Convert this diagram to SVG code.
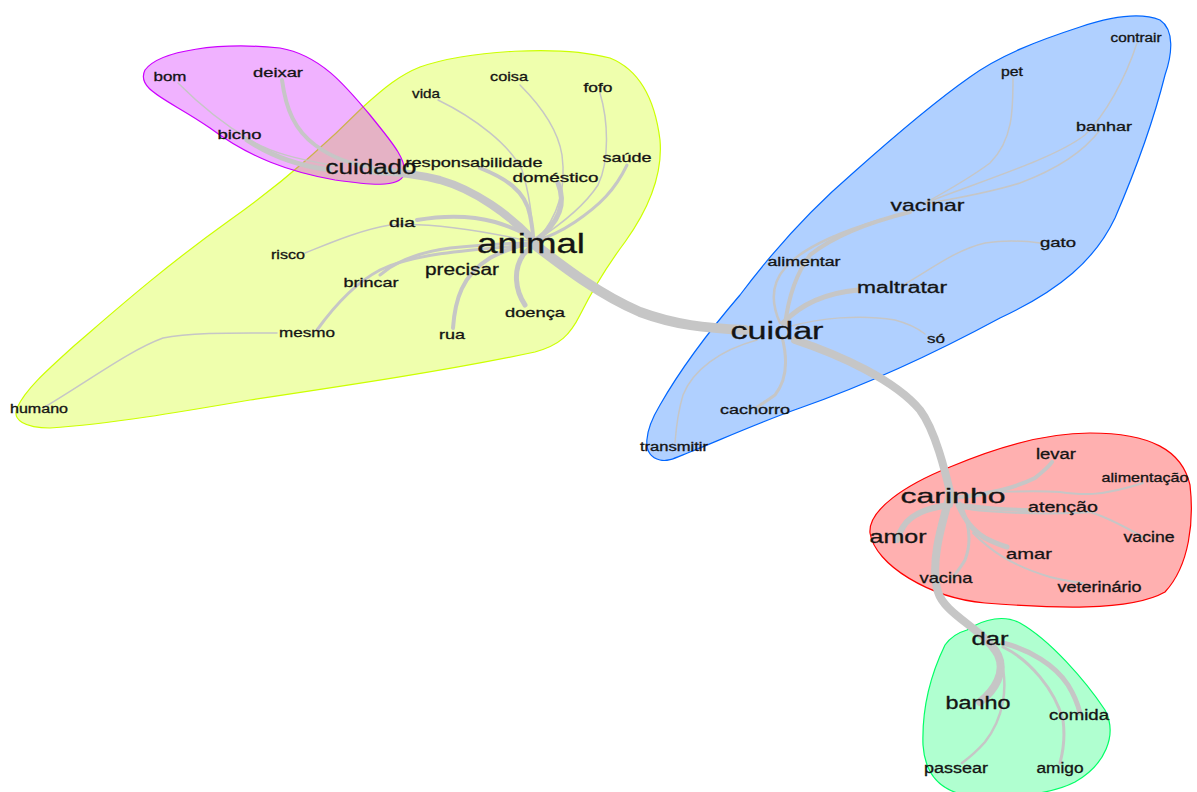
<svg xmlns="http://www.w3.org/2000/svg" width="1197" height="792" viewBox="0 0 1197 792">
<style>
.blob{stroke-width:1.2}
.yel{fill:#CCFF00;fill-opacity:0.32;stroke:#CCFF00}
.mag{fill:#CC00FF;fill-opacity:0.3;stroke:#CC00FF}
.blu{fill:#0066FF;fill-opacity:0.31;stroke:#0066FF}
.red{fill:#FF0000;fill-opacity:0.31;stroke:#FF0000}
.grn{fill:#00FF66;fill-opacity:0.31;stroke:#00FF66}
#edges path{fill:none;stroke:#c6c6c6;stroke-linecap:round}
text{font-family:"Liberation Sans",Arial,sans-serif;fill:#141414;stroke:#141414;stroke-width:0.3;text-anchor:middle}
</style>
<rect width="1197" height="792" fill="#ffffff"/>
<g id="groups">
<path class="blob yel" d="M 420,67 C 470,50 560,45 610,58 C 640,70 655,100 660,140 C 663,175 648,210 625,242 C 610,262 595,285 580,315 C 570,335 560,345 535,352 C 450,370 350,385 250,400 C 180,412 110,424 50,428 C 25,428 12,420 17,408 C 25,390 45,372 75,345 C 110,315 160,270 230,220 C 280,185 330,140 363,107 C 385,87 400,75 420,67 Z"/>
<path class="blob mag" d="M 145,70 C 160,50 220,42 280,48 C 320,55 345,85 370,115 C 390,140 408,160 404,175 C 398,188 370,185 335,180 C 290,172 250,158 210,128 C 170,100 135,90 145,70 Z"/>
<path class="blob blu" d="M 660,460 C 640,455 645,430 660,405 C 680,370 710,330 740,295 C 770,255 810,210 853,173 C 890,140 930,105 970,77 C 1000,55 1040,40 1080,27 C 1110,17 1140,12 1160,20 C 1175,30 1172,55 1165,75 C 1155,115 1140,160 1115,218 C 1095,260 1060,290 1000,318 C 950,345 880,380 800,408 C 760,422 720,440 690,452 C 675,458 668,462 660,460 Z"/>
<path class="blob red" d="M 870,533 C 868,510 905,485 950,467 C 990,450 1040,433 1090,433 C 1150,433 1182,450 1190,485 C 1194,520 1190,565 1165,592 C 1130,612 1050,608 985,603 C 930,598 875,565 870,533 Z"/>
<path class="blob grn" d="M 967,630 C 985,618 1005,615 1020,623 C 1050,640 1085,680 1105,710 C 1118,735 1105,765 1075,782 C 1050,795 1000,800 965,795 C 940,790 925,775 923,745 C 922,715 928,680 945,645 C 952,635 960,632 967,630 Z"/>
</g>
<g id="edges">
<path stroke-width="8" d="M 533,240 C 510,215 475,190 440,180 C 420,175 400,172 375,171"/>
<path stroke-width="10" d="M 535,245 C 565,268 600,295 640,312 C 675,325 705,328 745,330"/>
<path stroke-width="8" d="M 795,340 C 840,355 895,380 920,410 C 935,430 945,470 952,500"/>
<path stroke-width="8" d="M 950,495 C 940,530 930,565 938,592 C 945,615 985,630 998,655 C 1006,672 995,690 980,702"/>
<path stroke-width="5" d="M 247,140 C 265,152 290,165 330,170"/>
<path stroke-width="1.5" d="M 178,83 C 200,105 225,125 250,140 C 275,155 305,160 335,166"/>
<path stroke-width="4" d="M 282,80 C 286,110 295,130 315,145 C 335,160 355,165 372,167"/>
<path stroke-width="1.5" d="M 438,100 C 475,118 510,145 522,170 C 530,195 532,220 534,240"/>
<path stroke-width="1.5" d="M 520,85 C 540,105 558,130 562,155 C 566,185 560,215 537,240"/>
<path stroke-width="1.5" d="M 600,93 C 608,120 610,160 598,185 C 585,205 560,225 537,240"/>
<path stroke-width="4" d="M 480,168 C 505,178 525,190 530,215 C 532,225 533,232 533,238"/>
<path stroke-width="5" d="M 558,183 C 565,200 563,220 536,240"/>
<path stroke-width="3" d="M 627,165 C 615,190 600,205 575,222 C 560,232 545,238 537,240"/>
<path stroke-width="4" d="M 417,220 C 440,216 470,215 495,222 C 515,228 525,233 533,240"/>
<path stroke-width="1.5" d="M 305,253 C 330,243 360,230 390,225 C 430,222 480,230 533,242"/>
<path stroke-width="3" d="M 380,275 C 395,262 420,252 450,248 C 480,245 510,243 533,243"/>
<path stroke-width="3" d="M 317,330 C 335,305 355,283 380,270 C 410,255 460,250 533,245"/>
<path stroke-width="4" d="M 453,328 C 455,300 462,275 490,258 C 505,250 520,245 533,243"/>
<path stroke-width="5" d="M 525,305 C 515,290 513,270 523,255 C 527,250 531,247 535,244"/>
<path stroke-width="1.5" d="M 277,333 C 240,333 190,332 163,338 C 130,350 90,380 43,408"/>
<path stroke-width="4" d="M 785,325 C 788,300 795,275 810,255 C 835,235 870,222 910,212"/>
<path stroke-width="2.5" d="M 780,323 C 772,305 770,285 785,268 C 800,250 830,235 880,220"/>
<path stroke-width="1.5" d="M 1013,78 C 1013,110 1013,140 990,163 C 970,178 945,192 925,203"/>
<path stroke-width="1.5" d="M 1137,43 C 1125,80 1105,115 1085,135 C 1055,158 990,178 925,203"/>
<path stroke-width="1.5" d="M 1100,130 C 1085,150 1060,168 1020,183 C 985,194 955,198 925,204"/>
<path stroke-width="5" d="M 783,323 C 800,305 825,293 858,290"/>
<path stroke-width="1.5" d="M 905,284 C 930,270 955,250 985,243 C 1005,240 1025,241 1040,243"/>
<path stroke-width="1.5" d="M 787,327 C 820,318 860,314 895,320 C 910,324 920,330 925,334"/>
<path stroke-width="3" d="M 782,337 C 788,360 787,380 775,395 C 768,400 762,404 757,407"/>
<path stroke-width="1.5" d="M 757,340 C 720,350 693,370 683,395 C 677,415 676,430 675,443"/>
<path stroke-width="6" d="M 950,505 C 925,508 910,515 903,527 C 900,532 898,536 897,540"/>
<path stroke-width="4" d="M 960,497 C 985,495 1015,488 1035,478 C 1045,470 1050,465 1052,462"/>
<path stroke-width="4" d="M 960,505 C 985,508 1010,510 1030,510"/>
<path stroke-width="2" d="M 965,495 C 990,492 1030,490 1060,492 C 1080,495 1100,497 1143,483"/>
<path stroke-width="2" d="M 962,508 C 990,513 1050,515 1090,512 C 1110,518 1130,530 1143,537"/>
<path stroke-width="5" d="M 958,505 C 965,520 972,530 985,538 C 993,542 1000,545 1007,547"/>
<path stroke-width="2" d="M 973,533 C 990,550 1010,565 1050,577 C 1062,580 1072,582 1083,583"/>
<path stroke-width="3" d="M 960,503 C 968,520 973,540 965,560 C 961,567 957,572 953,577"/>
<path stroke-width="5" d="M 1003,643 C 1030,650 1055,665 1068,685 C 1076,698 1078,705 1080,713"/>
<path stroke-width="3" d="M 1003,647 C 1030,660 1055,690 1063,720 C 1065,735 1063,752 1060,763"/>
<path stroke-width="2.5" d="M 1000,655 C 1010,690 1002,720 985,742 C 978,750 970,757 962,763"/>
</g>
<g id="n-bom"><text x="170" y="81" font-size="13" textLength="33" lengthAdjust="spacingAndGlyphs">bom</text></g>
<g id="n-deixar"><text x="278" y="77" font-size="13" textLength="50" lengthAdjust="spacingAndGlyphs">deixar</text></g>
<g id="n-bicho"><text x="239.5" y="139" font-size="13" textLength="44" lengthAdjust="spacingAndGlyphs">bicho</text></g>
<g id="n-cuidado"><text x="371" y="174" font-size="20" textLength="91" lengthAdjust="spacingAndGlyphs">cuidado</text></g>
<g id="n-vida"><text x="426" y="98" font-size="13" textLength="28" lengthAdjust="spacingAndGlyphs">vida</text></g>
<g id="n-coisa"><text x="509" y="81" font-size="13" textLength="38" lengthAdjust="spacingAndGlyphs">coisa</text></g>
<g id="n-fofo"><text x="598" y="92" font-size="13" textLength="29" lengthAdjust="spacingAndGlyphs">fofo</text></g>
<g id="n-responsabilidade"><text x="474" y="167" font-size="13" textLength="137" lengthAdjust="spacingAndGlyphs">responsabilidade</text></g>
<g id="n-domestico"><text x="555.5" y="182" font-size="13" textLength="86" lengthAdjust="spacingAndGlyphs">doméstico</text></g>
<g id="n-saude"><text x="627" y="162" font-size="13" textLength="49" lengthAdjust="spacingAndGlyphs">saúde</text></g>
<g id="n-dia"><text x="402" y="227" font-size="13" textLength="26" lengthAdjust="spacingAndGlyphs">dia</text></g>
<g id="n-risco"><text x="288" y="259" font-size="13" textLength="34" lengthAdjust="spacingAndGlyphs">risco</text></g>
<g id="n-animal"><text x="531" y="253" font-size="28" textLength="108" lengthAdjust="spacingAndGlyphs">animal</text></g>
<g id="n-precisar"><text x="462" y="275" font-size="16" textLength="74" lengthAdjust="spacingAndGlyphs">precisar</text></g>
<g id="n-brincar"><text x="371" y="287" font-size="13" textLength="55" lengthAdjust="spacingAndGlyphs">brincar</text></g>
<g id="n-mesmo"><text x="307" y="337" font-size="13" textLength="56" lengthAdjust="spacingAndGlyphs">mesmo</text></g>
<g id="n-rua"><text x="452" y="339" font-size="13" textLength="26" lengthAdjust="spacingAndGlyphs">rua</text></g>
<g id="n-doenca"><text x="535" y="317" font-size="13" textLength="60" lengthAdjust="spacingAndGlyphs">doença</text></g>
<g id="n-humano"><text x="39" y="413" font-size="12" textLength="58" lengthAdjust="spacingAndGlyphs">humano</text></g>
<g id="n-contrair"><text x="1136" y="42" font-size="12" textLength="51" lengthAdjust="spacingAndGlyphs">contrair</text></g>
<g id="n-pet"><text x="1012" y="76" font-size="13" textLength="22" lengthAdjust="spacingAndGlyphs">pet</text></g>
<g id="n-banhar"><text x="1104" y="131" font-size="13" textLength="56" lengthAdjust="spacingAndGlyphs">banhar</text></g>
<g id="n-vacinar"><text x="927.5" y="211" font-size="17" textLength="74" lengthAdjust="spacingAndGlyphs">vacinar</text></g>
<g id="n-gato"><text x="1058" y="247" font-size="13" textLength="36" lengthAdjust="spacingAndGlyphs">gato</text></g>
<g id="n-alimentar"><text x="804" y="266" font-size="12" textLength="73" lengthAdjust="spacingAndGlyphs">alimentar</text></g>
<g id="n-maltratar"><text x="902" y="293" font-size="16" textLength="90" lengthAdjust="spacingAndGlyphs">maltratar</text></g>
<g id="n-cuidar"><text x="777" y="339" font-size="23" textLength="93" lengthAdjust="spacingAndGlyphs">cuidar</text></g>
<g id="n-so"><text x="936" y="343" font-size="13" textLength="18" lengthAdjust="spacingAndGlyphs">só</text></g>
<g id="n-cachorro"><text x="755" y="414" font-size="13" textLength="70" lengthAdjust="spacingAndGlyphs">cachorro</text></g>
<g id="n-transmitir"><text x="674" y="451" font-size="12" textLength="68" lengthAdjust="spacingAndGlyphs">transmitir</text></g>
<g id="n-levar"><text x="1056" y="459" font-size="14" textLength="40" lengthAdjust="spacingAndGlyphs">levar</text></g>
<g id="n-alimentacao"><text x="1145" y="482" font-size="13" textLength="87" lengthAdjust="spacingAndGlyphs">alimentação</text></g>
<g id="n-carinho"><text x="953" y="503" font-size="21" textLength="105" lengthAdjust="spacingAndGlyphs">carinho</text></g>
<g id="n-atencao"><text x="1063" y="512" font-size="15" textLength="70" lengthAdjust="spacingAndGlyphs">atenção</text></g>
<g id="n-amor"><text x="898" y="543" font-size="19" textLength="57" lengthAdjust="spacingAndGlyphs">amor</text></g>
<g id="n-vacine"><text x="1149" y="542" font-size="14" textLength="51" lengthAdjust="spacingAndGlyphs">vacine</text></g>
<g id="n-amar"><text x="1029" y="559" font-size="15" textLength="46" lengthAdjust="spacingAndGlyphs">amar</text></g>
<g id="n-vacina"><text x="946" y="583" font-size="15" textLength="53" lengthAdjust="spacingAndGlyphs">vacina</text></g>
<g id="n-veterinario"><text x="1099.5" y="592" font-size="14" textLength="84" lengthAdjust="spacingAndGlyphs">veterinário</text></g>
<g id="n-dar"><text x="990" y="645" font-size="18" textLength="37" lengthAdjust="spacingAndGlyphs">dar</text></g>
<g id="n-banho"><text x="978" y="709" font-size="18" textLength="65" lengthAdjust="spacingAndGlyphs">banho</text></g>
<g id="n-comida"><text x="1079" y="720" font-size="14" textLength="60" lengthAdjust="spacingAndGlyphs">comida</text></g>
<g id="n-passear"><text x="956" y="773" font-size="14" textLength="64" lengthAdjust="spacingAndGlyphs">passear</text></g>
<g id="n-amigo"><text x="1060" y="773" font-size="14" textLength="47" lengthAdjust="spacingAndGlyphs">amigo</text></g>
</svg>
